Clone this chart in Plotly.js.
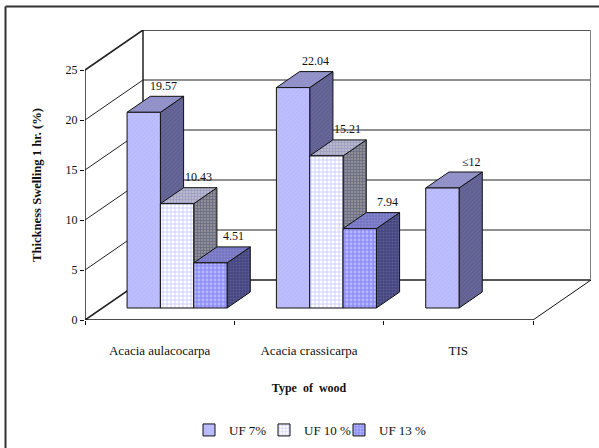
<!DOCTYPE html>
<html>
<head>
<meta charset="utf-8">
<script src="https://cdn.plot.ly/plotly-3.0.1.min.js"></script>
<style>html,body{margin:0;padding:0;background:#fff}#chart{width:599px;height:448px}</style>
</head>
<body>
<div id="chart"></div>
<script>
// Thickness swelling after 1 hr, per wood type and UF resin level
const categories = ['Acacia aulacocarpa', 'Acacia crassicarpa', 'TIS'];
const seriesNames = ['UF 7%', 'UF 10 %', 'UF 13 %'];
const uf7 = [19.57, 22.04, 12];
const uf10 = [10.43, 15.21, null];
const uf13 = [4.51, 7.94, null];
const uf7Labels = ['19.57', '22.04', '≤12'];
const uf10Labels = ['10.43', '15.21', ''];
const uf13Labels = ['4.51', '7.94', ''];
const yTicks = [0, 5, 10, 15, 20, 25];

// Oblique projection: depth 0..1 shifts a point right and up on the flat axes
const DEPTH_X = 58 / (448 / 3);
const DEPTH_Y = 4;
const FRONT = 0.3, BACK = 0.7;
const SLOT = 100 / 3 / (448 / 3);
const px = (c, d) => c + d * DEPTH_X;
const py = (v, d) => v + d * DEPTH_Y;
const SERIF = '"Liberation Serif", "Times New Roman", serif';

// Canvas layout in pixels, used to turn frame and legend spots into paper fractions
const PLOT_W = 506, PLOT_H = 418;
const AXIS_W = 448, AXIS_H = 270, BOTTOM = 128;
const BOX_X_MAX = PLOT_W / (AXIS_W / 3), BOX_Y_MAX = 29;

const styles = [
  {
    front: {color: '#bcbcff', pattern: {shape: '/', size: 3, solidity: 0.25, fgcolor: '#c4c4ff', bgcolor: '#b9b9fd'}},
    side: {color: '#666699', pat: {shape: '/', size: 3, solidity: 0.3, fgcolor: '#6a6a9c', bgcolor: '#606092'}},
    top: {color: '#9494cc', pat: {shape: '/', size: 3, solidity: 0.3, fgcolor: '#9898ce', bgcolor: '#9090c8'}}
  },
  {
    front: {color: '#ffffff', pattern: {shape: '+', size: 4, solidity: 0.35, fgcolor: '#c4c4ff', bgcolor: '#ffffff'}},
    side: {color: '#808090', pat: {shape: '+', size: 3, solidity: 0.4, fgcolor: '#666680', bgcolor: '#8e8e96'}},
    top: {color: '#aaaac8', pat: {shape: '+', size: 3, solidity: 0.4, fgcolor: '#9a9ac0', bgcolor: '#b8b8cc'}}
  },
  {
    front: {color: '#9c9cff', pattern: {shape: '.', size: 4, solidity: 0.4, fgcolor: '#b8b8ff', bgcolor: '#8f8ff5'}},
    side: {color: '#4c4c88', pat: {shape: '.', size: 3, solidity: 0.35, fgcolor: '#5c5c98', bgcolor: '#46467e'}},
    top: {color: '#7c7cc8', pat: {shape: '.', size: 3, solidity: 0.35, fgcolor: '#8a8ad2', bgcolor: '#7474c0'}}
  }
];

const seriesValues = [uf7, uf10, uf13];
const seriesLabels = [uf7Labels, uf10Labels, uf13Labels];
// Horizontal nudge of each value label, in pixels from the bar's front centre
const labelNudge = [[19.5, 22, 29], [21, 21, 0], [23, 28, 0]];

const INK = '#111111';
const traces = [];

// The labelled axes live on x/y; the box and side faces on x2/y2; the bar fronts on x3/y3.
// Subplots paint in that order, which gives the front faces their occlusion.
function wire(xs, ys, color, width) {
  traces.push({type: 'scatter', mode: 'lines', x: xs, y: ys, showlegend: false, hoverinfo: 'skip',
    line: {color: color, width: width}, xaxis: 'x2', yaxis: 'y2'});
}

// Walls and floor of the chart box
const nCat = categories.length;
yTicks.forEach(v => {
  wire([0, px(0, 1), px(nCat, 1)], [py(v, 0), py(v, 1), py(v, 1)], '#222222', v === 0 || v === 25 ? 1.6 : 1);
});
wire([px(0, 1), px(0, 1)], [py(0, 1), py(25, 1)], '#111111', 1.4);
wire([px(nCat, 1), px(nCat, 1)], [py(0, 1), py(25, 1)], '#808080', 2);
wire([0, 0], [0, 25], INK, 1.4);
wire([nCat, px(nCat, 1)], [0, py(0, 1)], INK, 1);
wire([0, nCat], [0, 0], INK, 1.4);

// Slot centre of a bar along the category axis
const barX = (cat, s) => cat + 0.5 + (s - 1) * SLOT;

// Side and top faces of every bar, computed from the values
seriesValues.forEach((vals, s) => {
  const side = {x: [], y: []}, top = {x: [], y: []};
  vals.forEach((v, cat) => {
    if (v === null) return;
    const left = barX(cat, s) - SLOT / 2, right = barX(cat, s) + SLOT / 2;
    side.x.push(px(right, FRONT), px(right, BACK), px(right, BACK), px(right, FRONT), px(right, FRONT), null);
    side.y.push(py(0, FRONT), py(0, BACK), py(v, BACK), py(v, FRONT), py(0, FRONT), null);
    top.x.push(px(left, FRONT), px(left, BACK), px(right, BACK), px(right, FRONT), px(left, FRONT), null);
    top.y.push(py(v, FRONT), py(v, BACK), py(v, BACK), py(v, FRONT), py(v, FRONT), null);
  });
  [[side, styles[s].side], [top, styles[s].top]].forEach(([face, st]) => {
    traces.push({type: 'scatter', mode: 'lines', x: face.x, y: face.y, fill: 'toself',
      fillcolor: st.color, fillpattern: st.pat, line: {color: INK, width: 1},
      showlegend: false, hoverinfo: 'skip', xaxis: 'x2', yaxis: 'y2'});
  });
});

// Front faces are real bars
seriesValues.forEach((vals, s) => {
  traces.push({type: 'bar', name: seriesNames[s],
    x: vals.map((v, cat) => px(barX(cat, s), FRONT)),
    y: vals, base: vals.map(() => py(0, FRONT)), width: SLOT,
    marker: {color: styles[s].front.color, pattern: styles[s].front.pattern, line: {color: INK, width: 1}},
    xaxis: 'x3', yaxis: 'y3', hoverinfo: 'y'});
});

// Blank trailing legend entry keeps the narrow entries from being cut off; it also anchors x/y
traces.push({type: 'scatter', mode: 'lines', x: [null], y: [null], name: '\u00a0', hoverinfo: 'skip',
  line: {width: 0}, xaxis: 'x', yaxis: 'y'});

// Value labels over the bar tops
const annotations = [];
seriesValues.forEach((vals, s) => vals.forEach((v, cat) => {
  if (v === null) return;
  annotations.push({xref: 'x3', yref: 'y3', x: px(barX(cat, s), FRONT), y: py(v, BACK),
    text: seriesLabels[s][cat], showarrow: false, xanchor: 'center', yanchor: 'middle',
    xshift: labelNudge[s][cat], yshift: 10.5, font: {family: SERIF, size: 12, color: '#111'}});
}));

const xDomain = [0, AXIS_W / PLOT_W];
const yDomain = [BOTTOM / PLOT_H, (BOTTOM + AXIS_H) / PLOT_H];
const boxYDomain = [BOTTOM / PLOT_H, 1];
const boxAxis = (domain, range, anchor) => ({domain, range, anchor, visible: false});

const layout = {
  width: 599, height: 448,
  margin: {l: 85, r: 8, t: 30, b: 0},
  paper_bgcolor: '#ffffff', plot_bgcolor: 'rgba(0,0,0,0)',
  font: {family: SERIF, size: 12, color: '#111'},
  barmode: 'overlay',
  xaxis: {
    automargin: false, domain: xDomain,
    range: [0, nCat], tickmode: 'array',
    tickvals: categories.map((c, i) => i + 0.5), ticktext: categories,
    ticks: '', showgrid: false, zeroline: false, showline: false,
    ticklabelstandoff: 21, tickfont: {size: 13},
    minor: {tickmode: 'array', tickvals: [0, 1, 2, 3], ticks: 'outside', ticklen: 4, tickcolor: INK, tickwidth: 1, showgrid: false},
    title: {text: '<b>Type\u00a0 of\u00a0 wood</b>', standoff: 26, font: {size: 12}}
  },
  yaxis: {
    automargin: false, domain: yDomain,
    range: [0, AXIS_H / 10], tickmode: 'array', tickvals: yTicks, ticktext: yTicks.map(String),
    ticks: 'outside', ticklen: 4, tickcolor: INK, tickwidth: 1,
    showgrid: false, zeroline: false, showline: false, tickfont: {size: 12},
    title: {text: '<b>Thickness Swelling 1 hr. (%)</b>', standoff: 21, font: {size: 12.6}}
  },
  xaxis2: boxAxis([0, 1], [0, BOX_X_MAX], 'y2'),
  yaxis2: boxAxis(boxYDomain, [0, BOX_Y_MAX], 'x2'),
  xaxis3: boxAxis([0, 1], [0, BOX_X_MAX], 'y3'),
  yaxis3: boxAxis(boxYDomain, [0, BOX_Y_MAX], 'x3'),
  legend: {
    orientation: 'h', x: 104 / PLOT_W, xanchor: 'left', y: 18 / PLOT_H, yanchor: 'middle',
    traceorder: 'normal', font: {size: 13, color: '#111'}, entrywidth: 30, entrywidthmode: 'pixels',
    bgcolor: 'rgba(0,0,0,0)'
  },
  // Outer frame, open on the right and at the bottom
  shapes: [
    {type: 'line', xref: 'paper', yref: 'paper', x0: -79.5 / PLOT_W, x1: 514 / PLOT_W, y0: 441.5 / PLOT_H, y1: 441.5 / PLOT_H, line: {color: '#333333', width: 2}},
    {type: 'line', xref: 'paper', yref: 'paper', x0: -79.5 / PLOT_W, x1: -79.5 / PLOT_W, y0: 441.5 / PLOT_H, y1: 0, line: {color: '#333333', width: 2}}
  ],
  annotations: annotations,
  showlegend: true
};

Plotly.newPlot('chart', traces, layout, {displayModeBar: false, responsive: false});
</script>
</body>
</html>
